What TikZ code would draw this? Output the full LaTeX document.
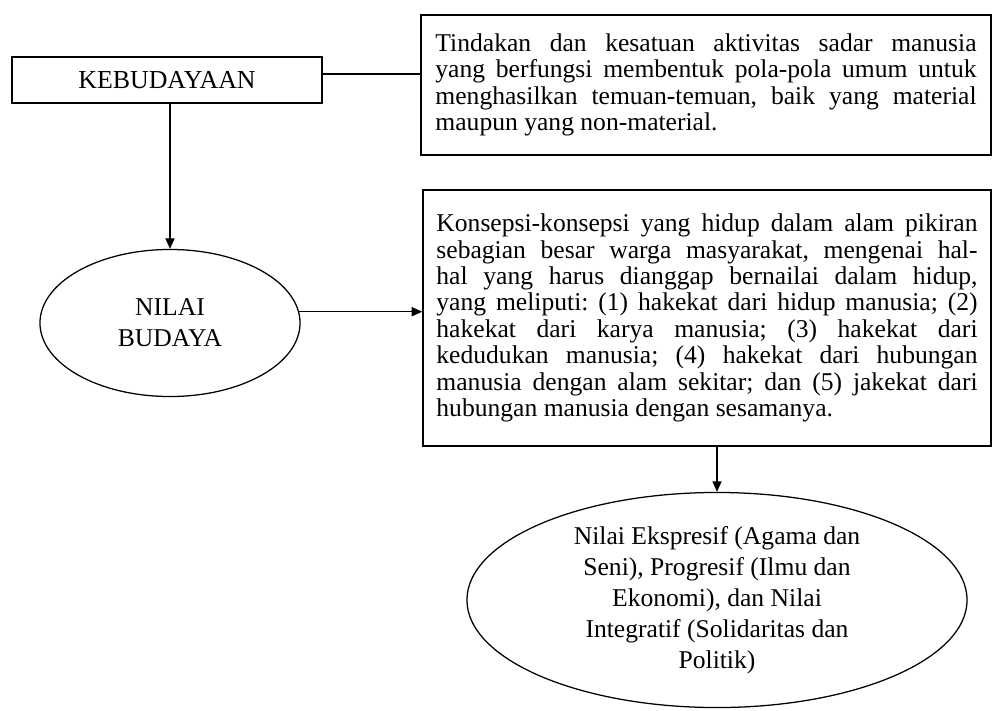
\documentclass[tikz,border=0pt]{standalone}
\usepackage{fontspec}
\setmainfont{Liberation Serif}
\usetikzlibrary{positioning, arrows.meta, shapes.geometric}

\begin{document}
\begin{tikzpicture}[
    x=0.025cm, y=-0.025cm,
    % Gaya untuk node
    kotak/.style={draw, line width=1pt, inner sep=0pt},
    elips/.style={ellipse, draw, line width=0.9pt, inner sep=0pt, align=center, font=\fontsize{18.2}{22}\selectfont},
    isi/.style={font=\fontsize{18.2}{18.8}\selectfont\frenchspacing, text width=13.525cm, align=justify},
    judul/.style={font=\fontsize{18.4}{22}\selectfont},
    panah/.style={line width=0.8pt, -{Triangle[length=7.5pt, width=6.5pt]}}
    ]

    % Batas gambar
    \useasboundingbox (0,0) rectangle (997,710);

    % Kebudayaan dan definisinya
    \node[kotak, judul, minimum width=7.75cm, minimum height=1.15cm] (kebudayaan) at (167,80) {KEBUDAYAAN};
    \node[kotak, isi, minimum width=14.25cm, minimum height=3.5cm] (tindakan) at (706,85) {Tindakan dan kesatuan aktivitas sadar manusia\linebreak
        yang berfungsi membentuk pola-pola umum untuk\linebreak
        menghasilkan temuan-temuan, baik yang material\linebreak
        maupun yang non-material.};

    % Nilai budaya dan definisinya
    \node[elips, minimum width=6.5cm, minimum height=3.675cm] (nilai) at (170,323) {NILAI\\BUDAYA};
    \node[kotak, isi, minimum width=14.2cm, minimum height=6.4cm] (konsepsi) at (707,318) {Konsepsi-konsepsi yang hidup dalam alam pikiran\linebreak
        sebagian besar warga masyarakat, mengenai hal-\linebreak
        hal yang harus dianggap bernailai dalam hidup,\linebreak
        yang meliputi: (1) hakekat dari hidup manusia; (2)\linebreak
        hakekat dari karya manusia; (3) hakekat dari\linebreak
        kedudukan manusia; (4) hakekat dari hubungan\linebreak
        manusia dengan alam sekitar; dan (5) jakekat dari\linebreak
        hubungan manusia dengan sesamanya.};

    % Jenis nilai
    \node[elips, minimum width=12.5cm, minimum height=5.375cm] (ekspresif) at (717,600) {Nilai Ekspresif (Agama dan\\
        Seni), Progresif (Ilmu dan\\
        Ekonomi), dan Nilai\\
        Integratif (Solidaritas dan\\
        Politik)};

    % Penghubung
    \draw[line width=0.8pt] ([yshift=0.15cm]kebudayaan.east) -- ([yshift=0.15cm]kebudayaan.east -| tindakan.west);
    \draw[panah] (kebudayaan.south -| nilai.north) -- (nilai.north);
    \draw[panah] (nilai.5) -- (nilai.5 -| konsepsi.west);
    \draw[panah] (konsepsi.south -| ekspresif.north) -- (ekspresif.north);

\end{tikzpicture}
\end{document}
